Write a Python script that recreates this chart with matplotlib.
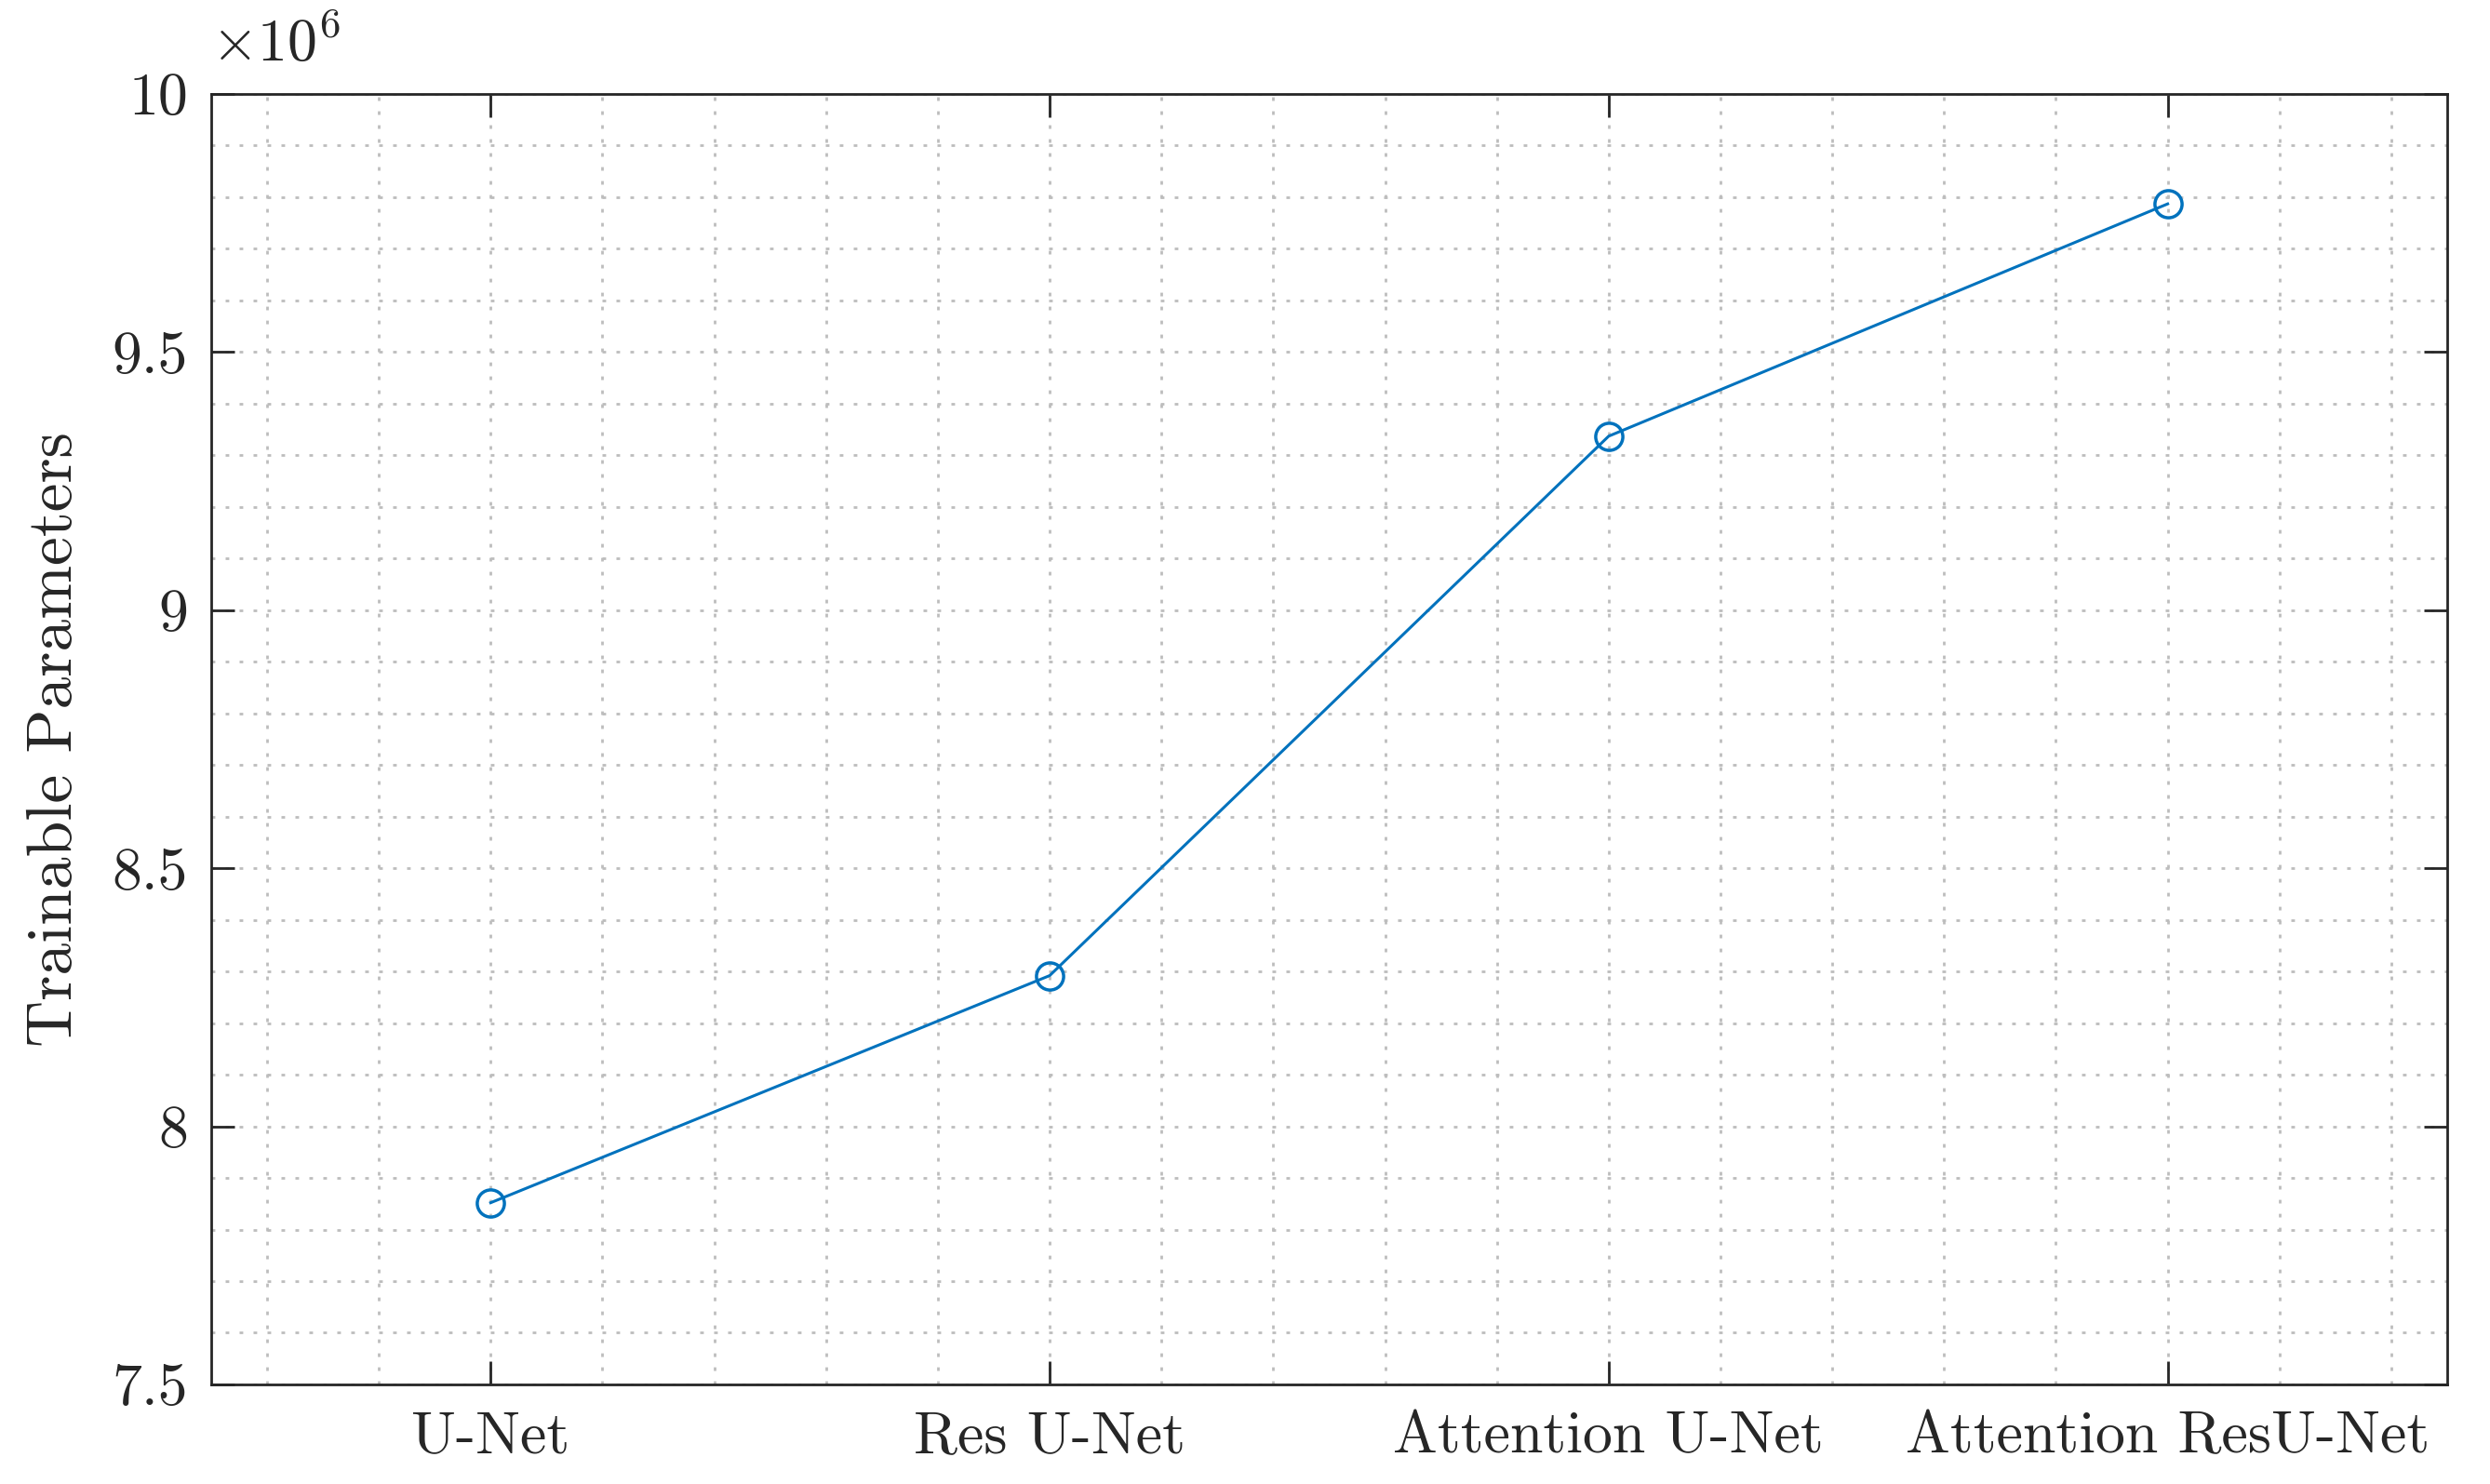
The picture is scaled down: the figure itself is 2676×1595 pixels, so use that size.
import matplotlib
matplotlib.use("Agg")
import matplotlib.pyplot as plt
from matplotlib.ticker import MultipleLocator, FixedLocator, FixedFormatter

models = ["U-Net", "Res U-Net", "Attention U-Net", "Attention ResU-Net"]
params = [7.852e6, 8.292e6, 9.337e6, 9.787e6]
ytick_vals = [7.5, 8.0, 8.5, 9.0, 9.5, 10.0]
ytick_labels = ["7.5", "8", "8.5", "9", "9.5", "10"]

plt.rcParams["font.family"] = ["cmr10", "DejaVu Serif"]
plt.rcParams["mathtext.fontset"] = "cm"
plt.rcParams["axes.formatter.use_mathtext"] = True

TXT = "#262626"
fig = plt.figure(figsize=(13.38, 7.975), dpi=200)
ax = fig.add_axes([0.0848, 0.0671, 0.898, 0.8696])

x = list(range(1, len(models) + 1))
ax.plot(x, [p / 1e6 for p in params], color="#0072BD", lw=1.1,
        marker="o", markersize=10.5, markerfacecolor="none",
        markeredgewidth=1.25, zorder=3)

ax.set_xlim(0.5, 4.5)
ax.set_ylim(7.5, 10.0)
ax.xaxis.set_major_locator(FixedLocator(x))
ax.xaxis.set_major_formatter(FixedFormatter(models))
ax.xaxis.set_minor_locator(MultipleLocator(0.2))
ax.yaxis.set_major_locator(FixedLocator(ytick_vals))
ax.yaxis.set_major_formatter(FixedFormatter(ytick_labels))
ax.yaxis.set_minor_locator(MultipleLocator(0.1))

for s in ax.spines.values():
    s.set_linewidth(1.0)
    s.set_color(TXT)

ax.tick_params(which="major", direction="in", length=9, width=1.0,
               color=TXT, labelcolor=TXT, labelsize=23,
               top=True, right=True)
ax.tick_params(which="minor", length=0, top=True, right=True)
ax.tick_params(axis="x", which="major", pad=10)
ax.tick_params(axis="y", which="major", pad=9)

grid_kw = dict(color="#bdbdbd", lw=1.0, linestyle=(0, (1.4, 4)))
ax.grid(True, which="major", **grid_kw)
ax.grid(True, which="minor", **grid_kw)
ax.set_axisbelow(True)

ax.set_ylabel("Trainable Parameters", fontsize=25, color=TXT, labelpad=11)
ax.text(0.0, 1.016, r"$\times 10^{6}$", transform=ax.transAxes,
        fontsize=23, color=TXT, ha="left", va="bottom")

fig.savefig("out.png", dpi=200)
